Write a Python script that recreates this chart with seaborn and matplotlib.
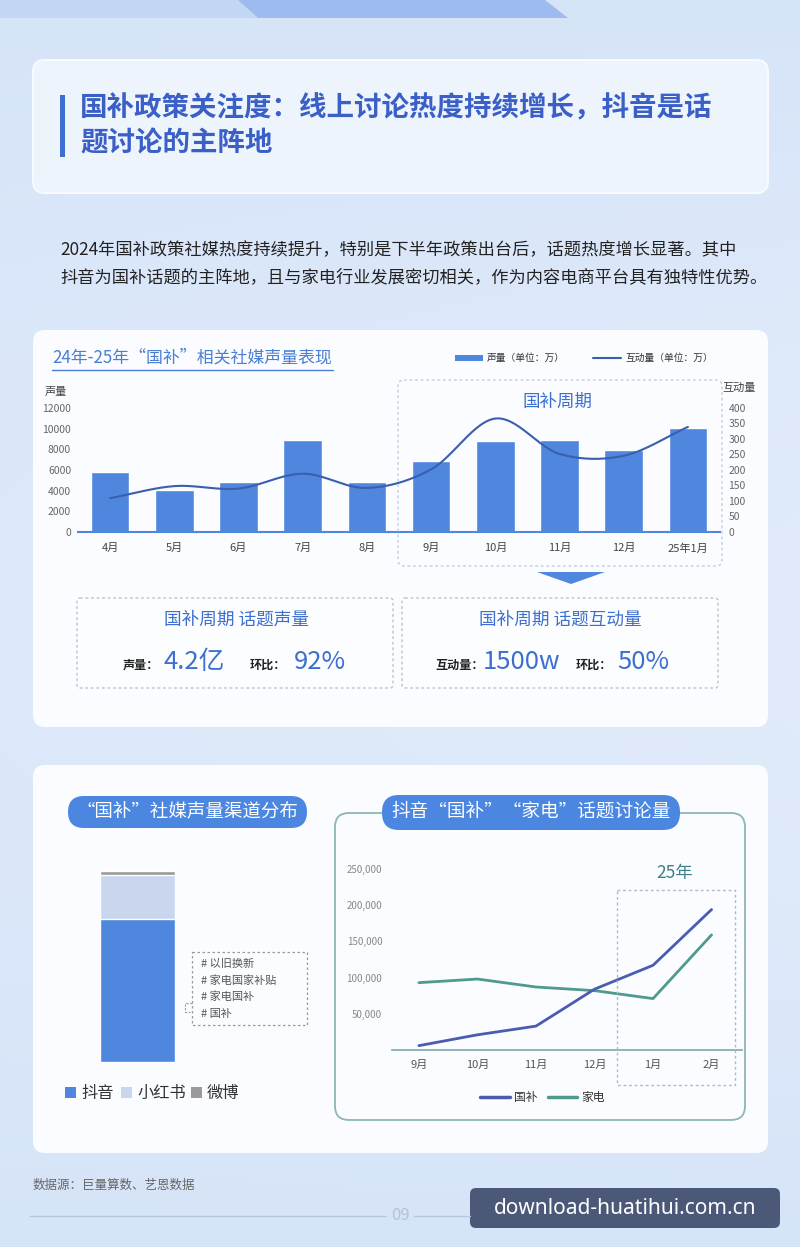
import numpy as np
import matplotlib
matplotlib.use("Agg")
import matplotlib.pyplot as plt
from matplotlib.patches import FancyBboxPatch, Polygon, Rectangle
import seaborn as sns

sns.set_style("white")
plt.rcParams['font.family'] = ['Noto Sans CJK SC', 'DejaVu Sans']

W, H = 800, 1247

# ---- data ----
months = ["4月", "5月", "6月", "7月", "8月", "9月", "10月", "11月", "12月", "25年1月"]
volume = [5800, 4100, 4800, 8900, 4800, 6900, 8800, 8900, 7900, 10100]      # 声量(万)
interaction = [109, 148, 140, 188, 142, 202, 366, 252, 246, 339]            # 互动量(万)

channels = ["抖音", "小红书", "微博"]
channel_share = [75.0, 22.7, 2.3]
channel_colors = ["#4f86de", "#c9d6ee", "#9a9a9a"]

topic_months = ["9月", "10月", "11月", "12月", "1月", "2月"]
guobu = [6000, 21000, 33000, 84000, 117000, 194000]
jiadian = [93000, 98000, 87000, 82000, 71000, 159000]

hashtags = ["# 以旧换新", "# 家电国家补贴", "# 家电国补", "# 国补"]

BLUE = "#4f86de"
DARK_BLUE = "#3a5fc6"
TEXT_BLUE = "#3d6fd0"


def rect(l, t, r, b):
    return [l / W, 1 - b / H, (r - l) / W, (b - t) / H]


def smooth(y, n=30):
    # catmull-rom through the data points, for a smooth rendering of the line
    y = np.asarray(y, float)
    p = np.concatenate([[2 * y[0] - y[1]], y, [2 * y[-1] - y[-2]]])
    xs, ys = [], []
    for i in range(len(y) - 1):
        t = np.linspace(0, 1, n, endpoint=(i == len(y) - 2))
        m1 = (p[i + 2] - p[i]) / 2
        m2 = (p[i + 3] - p[i + 1]) / 2
        h00 = 2 * t**3 - 3 * t**2 + 1
        h10 = t**3 - 2 * t**2 + t
        h01 = -2 * t**3 + 3 * t**2
        h11 = t**3 - t**2
        ys.append(h00 * p[i + 1] + h10 * m1 + h01 * p[i + 2] + h11 * m2)
        xs.append(i + t)
    return np.concatenate(xs), np.concatenate(ys)


fig = plt.figure(figsize=(W / 100, H / 100), dpi=100)

# ---- background ----
bg = fig.add_axes([0, 0, 1, 1], zorder=0)
bg.set_xlim(0, W)
bg.set_ylim(H, 0)
bg.axis("off")
yy = np.linspace(0, 1, 300)[:, None]
xx = np.linspace(0, 1, 200)[None, :]
c1 = np.array([0.80, 0.87, 0.97])
c2 = np.array([0.88, 0.92, 0.98])
a = 0.5 + 0.5 * np.sin(yy * np.pi) * (0.6 + 0.4 * xx)
grad = c1[None, None, :] * (1 - a[..., None]) + c2[None, None, :] * a[..., None]
bg.imshow(grad, extent=(0, W, H, 0), aspect="auto")
bg.add_patch(Polygon([(0, 0), (238, 0), (258, 18), (0, 18)], color="#c3d7f4", lw=0))
bg.add_patch(Polygon([(238, 0), (545, 0), (568, 18), (258, 18)], color="#9dbbee", lw=0))

# cards
bg.add_patch(FancyBboxPatch((33, 60), 735, 133, boxstyle="round,pad=0,rounding_size=12",
                            fc="#eef4fc", ec="#f7faff", lw=1.5))
bg.add_patch(FancyBboxPatch((33, 330), 735, 397, boxstyle="round,pad=0,rounding_size=12",
                            fc="#fafcff", ec="none"))
bg.add_patch(FancyBboxPatch((33, 765), 735, 388, boxstyle="round,pad=0,rounding_size=12",
                            fc="#fbfcff", ec="none"))

fg = fig.add_axes([0, 0, 1, 1], zorder=3)
fg.set_xlim(0, W)
fg.set_ylim(H, 0)
fg.axis("off")
fg.patch.set_alpha(0)

# ---- heading ----
fg.add_patch(Rectangle((60, 95), 5, 62, color=TEXT_BLUE, lw=0))
fg.text(80, 108, "国补政策关注度：线上讨论热度持续增长，抖音是话", fontsize=19.8,
        fontweight="bold", color=DARK_BLUE, va="center")
fg.text(80, 143, "题讨论的主阵地", fontsize=19.8, fontweight="bold", color=DARK_BLUE, va="center")
fg.text(60, 250, "2024年国补政策社媒热度持续提升，特别是下半年政策出台后，话题热度增长显著。其中",
        fontsize=12.4, color="#222222", va="center")
fg.text(60, 277, "抖音为国补话题的主阵地，且与家电行业发展密切相关，作为内容电商平台具有独特性优势。",
        fontsize=12.4, color="#222222", va="center")

# ---- top chart ----
fg.text(52, 358, "24年-25年“国补”相关社媒声量表现", fontsize=12.2, color="#4a7fd4", va="center")
fg.plot([52, 333], [370, 370], color="#4a7fd4", lw=1)
fg.add_patch(Rectangle((455, 355), 28, 6, color=BLUE, lw=0))
fg.text(487, 358, "声量（单位：万）", fontsize=7, color="#333", va="center")
fg.plot([593, 621], [358, 358], color="#3a5fae", lw=1.5)
fg.text(625, 358, "互动量（单位：万）", fontsize=7, color="#333", va="center")
fg.text(45, 392, "声量", fontsize=8, color="#444", va="center")
fg.text(722, 388, "互动量", fontsize=8, color="#444", va="center")

fg.add_patch(FancyBboxPatch((398, 380), 324, 186, boxstyle="round,pad=0,rounding_size=6",
                            fc="none", ec="#c3ceda", lw=1, ls=(0, (2, 2))))
fg.text(557, 402, "国补周期", fontsize=12.6, color=TEXT_BLUE, ha="center", va="center")
fg.add_patch(Polygon([(537, 572), (605, 572), (571, 584)], color=BLUE, lw=0))

ax = fig.add_axes(rect(78, 408, 720, 532), zorder=2)
ax.patch.set_alpha(0)
sns.barplot(x=months, y=volume, ax=ax, color=BLUE, width=0.6, saturation=1)
ax.set_xlim(-0.5, 9.5)
ax.set_ylim(0, 12000)
ax.set_yticks(range(0, 12001, 2000))
ax.set_xlabel("")
ax.set_ylabel("")
ax.tick_params(axis="y", length=0, pad=5, labelsize=7.5, labelcolor="#666")
ax.tick_params(axis="x", length=0, pad=8, labelsize=8, labelcolor="#444")
for s in ["left", "right", "top"]:
    ax.spines[s].set_visible(False)
ax.spines["bottom"].set_color(BLUE)
ax.spines["bottom"].set_linewidth(1.5)

ax2 = ax.twinx()
ax2.set_zorder(2.5)
ax2.patch.set_alpha(0)
sx, sy = smooth(interaction)
sns.lineplot(x=sx, y=sy, ax=ax2, color="#3a5fae", lw=1.5, sort=False, estimator=None)
ax2.set_ylim(0, 400)
ax2.set_yticks(range(0, 401, 50))
ax2.tick_params(axis="y", length=0, pad=6, labelsize=7.5, labelcolor="#666")
ax2.set_ylabel("")
for s in ax2.spines.values():
    s.set_visible(False)

# stat boxes
for x0 in (77, 402):
    fg.add_patch(FancyBboxPatch((x0, 598), 316, 90, boxstyle="round,pad=0,rounding_size=3",
                                fc="#fbfdff", ec="#b8c3cf", lw=1, ls=(0, (2, 2))))
fg.text(237, 620, "国补周期 话题声量", fontsize=12.7, color=TEXT_BLUE, ha="center", va="center")
fg.text(560, 620, "国补周期 话题互动量", fontsize=12.7, color=TEXT_BLUE, ha="center", va="center")
fg.text(123, 665, "声量：", fontsize=8.7, fontweight="bold", color="#222", va="center")
fg.text(163, 662, "4.2亿", fontsize=18.5, color=TEXT_BLUE, va="center")
fg.text(250, 665, "环比：", fontsize=8.7, fontweight="bold", color="#222", va="center")
fg.text(294, 662, "92%", fontsize=18.5, color=TEXT_BLUE, va="center")
fg.text(435, 665, "互动量：", fontsize=8.7, fontweight="bold", color="#222", va="center")
fg.text(483, 662, "1500w", fontsize=18.5, color=TEXT_BLUE, va="center")
fg.text(576, 665, "环比：", fontsize=8.7, fontweight="bold", color="#222", va="center")
fg.text(617, 662, "50%", fontsize=18.5, color=TEXT_BLUE, va="center")

# ---- bottom left: channel distribution ----
fg.add_patch(FancyBboxPatch((68, 796), 239, 32, boxstyle="round,pad=0,rounding_size=16",
                            fc="#4b86e0", ec="none"))
fg.text(187, 812, "“国补”社媒声量渠道分布", fontsize=13.3, color="white", ha="center", va="center")

axs = fig.add_axes(rect(100, 871, 175, 1062), zorder=2)
axs.patch.set_alpha(0)
cum = np.cumsum(channel_share)
for i in reversed(range(len(channels))):
    sns.barplot(x=["渠道"], y=[cum[i]], ax=axs, color=channel_colors[i], width=1, saturation=1)
axs.set_xlim(-0.5, 0.5)
axs.set_ylim(0, cum[-1])
axs.axis("off")

fg.add_patch(Rectangle((192, 952), 115, 73, fc="none", ec="#9a9a9a", lw=0.9, ls=(0, (2, 2))))
fg.plot([192, 185, 185, 190], [1003, 1003, 1012, 1012], color="#9a9a9a", lw=0.8, ls=(0, (2, 1.5)))
for k, tag in enumerate(hashtags):
    fg.text(201, 964 + k * 16.5, tag, fontsize=8, color="#555", style="italic", va="center")

lx = [65, 121, 191]
for c, name, x0 in zip(channel_colors, channels, lx):
    fg.add_patch(Rectangle((x0, 1087), 11, 11, color=c, lw=0))
    fg.text(x0 + 16, 1093, name, fontsize=11.7, color="#333", va="center")

# ---- bottom right: douyin topics ----
fg.add_patch(FancyBboxPatch((335, 813), 410, 307, boxstyle="round,pad=0,rounding_size=14",
                            fc="none", ec="#8cb6b4", lw=1.3))
fg.add_patch(FancyBboxPatch((382, 795), 298, 35, boxstyle="round,pad=0,rounding_size=17",
                            fc="#4b86e0", ec="none"))
fg.text(531, 812, "抖音“国补”“家电”话题讨论量", fontsize=13.4, color="white", ha="center", va="center")

axl = fig.add_axes(rect(392, 854.5, 742, 1050), zorder=2)
axl.patch.set_alpha(0)
xs = np.arange(len(topic_months))
sns.lineplot(x=xs, y=jiadian, ax=axl, color="#4f9a8e", lw=2)
sns.lineplot(x=xs, y=guobu, ax=axl, color="#4a5cb0", lw=2)
axl.set_xlim(-0.46, 5.52)
axl.set_ylim(0, 270000)
axl.set_xticks(xs)
axl.set_xticklabels(topic_months)
axl.set_yticks(range(50000, 250001, 50000))
axl.set_yticklabels([f"{v:,}" for v in range(50000, 250001, 50000)])
axl.tick_params(axis="y", length=0, pad=7, labelsize=7, labelcolor="#888")
axl.tick_params(axis="x", length=0, pad=7, labelsize=8, labelcolor="#555")
for s in ["left", "right", "top"]:
    axl.spines[s].set_visible(False)
axl.spines["bottom"].set_color("#7fa9ad")
axl.spines["bottom"].set_linewidth(1.2)

fg.add_patch(Rectangle((617, 890), 118, 195, fc="none", ec="#a9bcc4", lw=1, ls=(0, (2, 2))))
fg.text(675, 873, "25年", fontsize=12.5, color="#3e8088", ha="center", va="center")

fg.plot([480, 510], [1097, 1097], color="#4a5cb0", lw=2.5)
fg.text(514, 1097, "国补", fontsize=8.5, color="#333", va="center")
fg.plot([548, 577], [1097, 1097], color="#4f9a8e", lw=2.5)
fg.text(581, 1097, "家电", fontsize=8.5, color="#333", va="center")

# ---- footer ----
fg.text(33, 1185, "数据源：巨量算数、艺恩数据", fontsize=9, color="#666", va="center")
fg.plot([30, 386], [1216, 1216], color="#b8c8dc", lw=1)
fg.plot([414, 470], [1216, 1216], color="#b8c8dc", lw=1)
fg.text(400, 1216, "09", fontsize=12, color="#b3c3d6", ha="center", va="center")
fg.add_patch(FancyBboxPatch((470, 1188), 310, 40, boxstyle="round,pad=0,rounding_size=6",
                            fc="#4b5878", ec="none"))
fg.text(625, 1208, "download-huatihui.com.cn", fontsize=15, color="white",
        ha="center", va="center", family=["Noto Sans", "DejaVu Sans"])

fig.savefig("out.png", dpi=100)
